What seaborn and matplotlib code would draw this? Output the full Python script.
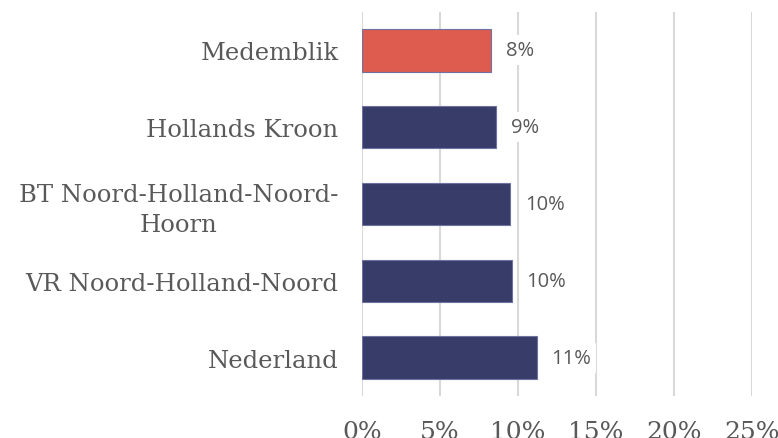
import matplotlib
matplotlib.use("Agg")
import matplotlib.pyplot as plt
import matplotlib.ticker as mticker
import seaborn as sns
import pandas as pd

categories = ["Medemblik", "Hollands Kroon", "BT Noord-Holland-Noord-\nHoorn",
              "VR Noord-Holland-Noord", "Nederland"]
values = [8.3, 8.6, 9.5, 9.6, 11.2]
value_labels = ["8%", "9%", "10%", "10%", "11%"]
bar_colors = ["#DE5B50", "#383C68", "#383C68", "#383C68", "#383C68"]
x_ticks = [0, 5, 10, 15, 20, 25]

df = pd.DataFrame({"regio": categories, "pct": values})

sns.set_style("white")
text_grey = "#595959"

fig = plt.figure(figsize=(7.78, 4.39), dpi=100)
ax = fig.add_axes([0.4653, 0.0957, 0.5013, 0.8747])

sns.barplot(data=df, x="pct", y="regio", hue="regio", palette=bar_colors,
            saturation=1, orient="h", width=0.55, legend=False, ax=ax,
            edgecolor="#6E72A0", linewidth=0.8, zorder=3)

ax.set_xlim(0, 25)
ax.set_xticks(x_ticks)
ax.xaxis.set_major_formatter(mticker.FuncFormatter(lambda v, p: f"{v:.0f}%"))
ax.grid(axis="x", color="#D9D9D9", linewidth=1.5, zorder=0)
ax.set_axisbelow(True)
for s in ax.spines.values():
    s.set_visible(False)

ax.set_xlabel("")
ax.set_ylabel("")
ax.tick_params(axis="y", length=0, pad=17, labelsize=17.5, labelcolor=text_grey)
ax.tick_params(axis="x", length=0, pad=17, labelsize=18, labelcolor=text_grey)
for lab in ax.get_yticklabels() + ax.get_xticklabels():
    lab.set_family("DejaVu Serif")
for lab in ax.get_yticklabels():
    lab.set_multialignment("center")
    lab.set_linespacing(1.35)

for i, (v, t) in enumerate(zip(values, value_labels)):
    ax.annotate(t, xy=(v, i), xytext=(10.5, 0), textcoords="offset points",
                ha="left", va="center", fontsize=14.5, color=text_grey,
                family="Open Sans", zorder=4,
                bbox=dict(boxstyle="square,pad=0.25", fc="white", ec="none"))

fig.savefig("out.png", dpi=100)
